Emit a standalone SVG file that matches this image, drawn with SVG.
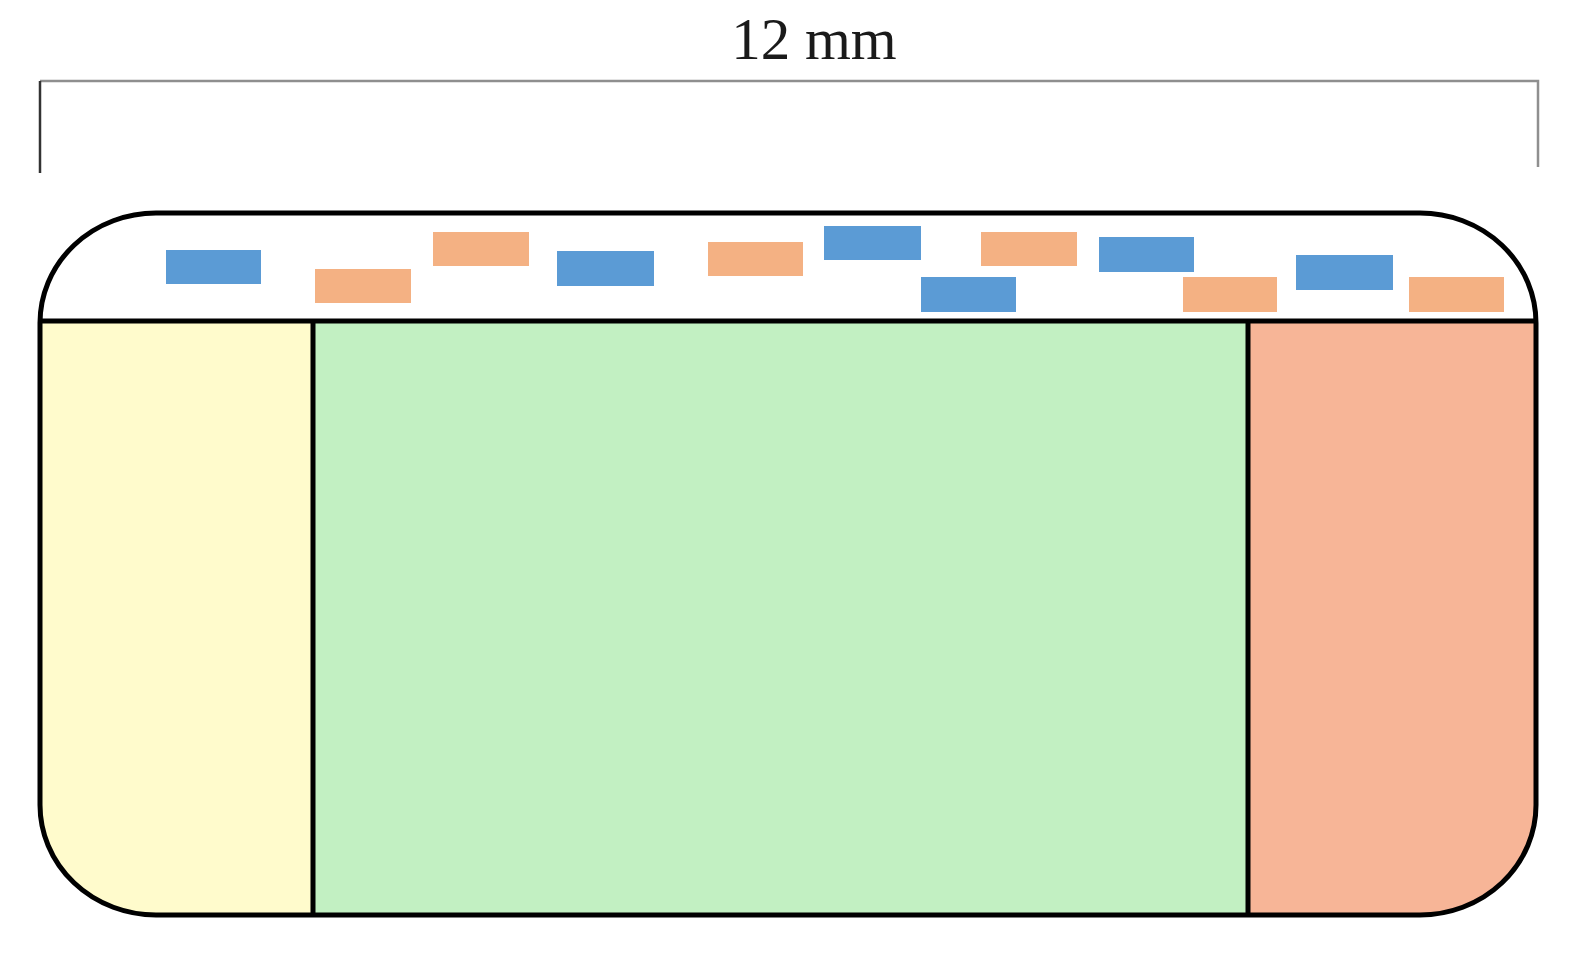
<svg xmlns="http://www.w3.org/2000/svg" width="1577" height="961" viewBox="0 0 1577 961">
<style>
.b{fill:#5B9BD5}
.o{fill:#F4B183}
.ln{stroke:#000;stroke-width:5;fill:none}
.dim{stroke:#8f8f8f;stroke-width:2.5;fill:none}
</style>
<defs>
<clipPath id="cp"><rect x="40" y="213" width="1496" height="702" rx="116" ry="110"/></clipPath>
</defs>
<rect width="1577" height="961" fill="#fff"/>
<g id="dimension">
<path class="dim" d="M40 81 H1538 V167"/>
<path d="M40 81 V173" stroke="#333" stroke-width="2.5" fill="none"/>
<text x="814" y="59" font-family="Liberation Serif, serif" font-size="59" text-anchor="middle" fill="#1a1a1a">12 mm</text>
</g>
<g id="body" clip-path="url(#cp)">
<rect x="40" y="213" width="1496" height="108" fill="#fff"/>
<rect id="left-zone" x="40" y="321" width="273" height="600" fill="#FFFBCC"/>
<rect id="middle-zone" x="313" y="321" width="935" height="600" fill="#C2F0C2"/>
<rect id="right-zone" x="1248" y="321" width="300" height="600" fill="#F7B597"/>
</g>
<g id="particles">
<rect class="b" x="166" y="250" width="95" height="34"/>
<rect class="o" x="315" y="269" width="96" height="34"/>
<rect class="o" x="433" y="232" width="96" height="34"/>
<rect class="b" x="557" y="251" width="97" height="35"/>
<rect class="o" x="708" y="242" width="95" height="34"/>
<rect class="b" x="824" y="226" width="97" height="34"/>
<rect class="b" x="921" y="277" width="95" height="35"/>
<rect class="o" x="981" y="232" width="96" height="34"/>
<rect class="b" x="1099" y="237" width="95" height="35"/>
<rect class="o" x="1183" y="277" width="94" height="35"/>
<rect class="b" x="1296" y="255" width="97" height="35"/>
<rect class="o" x="1409" y="277" width="95" height="35"/>
</g>
<g id="connectors">
<path class="ln" d="M40 321 H1536 M313 321 V915 M1248 321 V915"/>
</g>
<rect id="outline" class="ln" x="40" y="213" width="1496" height="702" rx="116" ry="110"/>
</svg>
